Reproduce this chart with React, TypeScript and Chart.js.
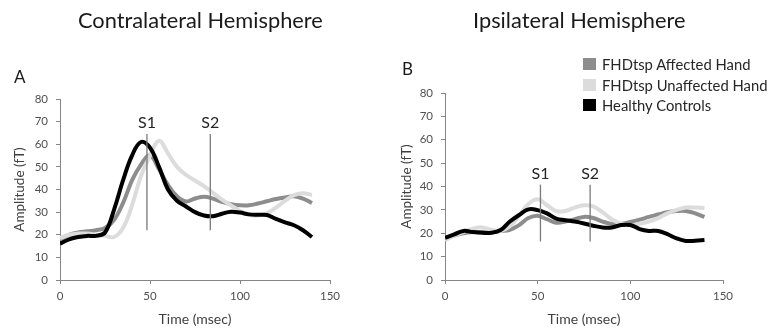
import React, { useEffect, useRef } from "react";
import { Chart, registerables } from "chart.js";
Chart.register(...registerables);

const FONT = "Lato, 'Open Sans', 'DejaVu Sans', sans-serif";

// ---- data ----
const timesMs = [0, 5, 10, 15, 20, 25, 30, 35, 40, 45, 50, 55, 60, 65, 70, 75, 80, 85, 90, 95, 100, 105, 110, 115, 120, 125, 130, 135, 140];

const seriesNames = ["FHDtsp Affected Hand", "FHDtsp Unaffected Hand", "Healthy Controls"];
const seriesColors = ["#8d8d8d", "#dcdcdc", "#000000"];

const contraAffected = [18, 20, 21, 21.5, 22, 23, 26.5, 34, 44, 51, 55, 49, 42, 37, 34.7, 36, 36.8, 36, 34.5, 33.5, 33, 33, 33.8, 34.8, 35.8, 36.5, 37, 36, 34];
const contraUnaffected = [18.5, 20, 20.5, 20.5, 20, 19.5, 19, 23, 33, 46, 55, 61.5, 56, 50, 46.5, 44, 41.5, 38.5, 35.5, 33, 30.5, 28.8, 28.5, 29.5, 32, 35, 37.5, 38.3, 37.6];
const contraControls = [16, 18, 19, 19.5, 19.5, 21, 31, 44, 55, 61, 58.5, 50, 40, 35, 32.5, 30, 28.5, 28.2, 29.3, 30.2, 29.8, 29, 28.8, 28.7, 27, 25.5, 24.2, 22, 19];

const ipsiAffected = [18, 19, 20, 20.5, 20.5, 20.5, 21, 21.5, 23.5, 26.5, 27.5, 26, 24.5, 25, 26, 27, 26.5, 25, 24, 24, 24.8, 25.8, 27, 28, 29, 29.5, 29.5, 28.5, 27];
const ipsiUnaffected = [17, 19, 20.5, 22, 22.5, 21.5, 21, 23, 27.5, 32.5, 34.5, 32, 29.5, 29.5, 31, 32, 31.5, 29, 26, 24, 23.5, 24, 25, 26.5, 28.5, 30, 31, 31, 30.8];
const ipsiControls = [18, 19.5, 21, 20.5, 20.2, 20.2, 21.4, 25, 27.8, 30.2, 29.9, 28.5, 26.3, 25.6, 25, 24.2, 23.2, 22.5, 22.5, 23.5, 23.5, 21.8, 21, 21, 19.6, 17.8, 16.7, 16.8, 17.1];

const markerLabels = ["S1", "S2"];
const contraMarkerTimes = [48.3, 83.5];
const contraMarkerSpan = [22, 64.5];
const ipsiMarkerTimes = [51.5, 78.3];
const ipsiMarkerSpan = [16.5, 40.8];

const xMin = 0, xMax = 150, xStep = 50;
const yMin = 0, yMax = 80, yStep = 10;

const panelTitles = ["Contralateral Hemisphere", "Ipsilateral Hemisphere"];
const panelLetters = ["A", "B"];
const xTitle = "Time (msec)";
const yTitle = "Amplitude (fT)";

type PanelProps = {
  series: number[][];
  markerTimes: number[];
  markerSpan: number[];
  left: number;
  padTop: number;
  padRight: number;
  yTitlePad: number;
};

function Panel({ series, markerTimes, markerSpan, left, padTop, padRight, yTitlePad }: PanelProps) {
  const ref = useRef<HTMLCanvasElement | null>(null);
  useEffect(() => {
    if (!ref.current) return;
    const lineSets = series.map((vals, i) => ({
      label: seriesNames[i],
      data: timesMs.map((t, j) => ({ x: t, y: vals[j] })),
      borderColor: seriesColors[i],
      backgroundColor: seriesColors[i],
      borderWidth: 4,
      pointRadius: 0,
      tension: 0.4,
      fill: false,
      order: 3 - i,
    }));
    const markerSets = markerTimes.map((t, i) => ({
      label: markerLabels[i],
      data: [
        { x: t, y: markerSpan[0] },
        { x: t, y: markerSpan[1] },
      ],
      borderColor: "#7a7a7a",
      borderWidth: 1.3,
      pointRadius: 0,
      tension: 0,
      fill: false,
      order: 0,
    }));
    const markerText = {
      id: "markerText",
      afterDatasetsDraw(chart: any) {
        const ctx = chart.ctx;
        const xs = chart.scales.x;
        const ys = chart.scales.y;
        ctx.save();
        ctx.fillStyle = "#262626";
        ctx.font = `16px ${FONT}`;
        ctx.textAlign = "center";
        ctx.textBaseline = "middle";
        markerTimes.forEach((t, i) => {
          ctx.fillText(markerLabels[i], xs.getPixelForValue(t), ys.getPixelForValue(markerSpan[1]) - 11);
        });
        ctx.restore();
      },
    };
    const chart = new Chart(ref.current, {
      type: "line",
      data: { datasets: [...lineSets, ...markerSets] as any },
      options: {
        animation: false,
        responsive: false,
        maintainAspectRatio: false,
        layout: { padding: { left: 0, top: padTop, right: padRight, bottom: 3 } },
        plugins: { legend: { display: false }, tooltip: { enabled: false }, title: { display: false } },
        scales: {
          x: {
            type: "linear",
            min: xMin,
            max: xMax,
            ticks: { stepSize: xStep, color: "#505050", font: { family: FONT, size: 11.5 }, padding: 5, maxRotation: 0 },
            grid: { display: true, drawOnChartArea: false, drawTicks: true, tickLength: 4, color: "#868686" },
            border: { display: true, color: "#868686" },
            title: { display: true, text: xTitle, color: "#404040", font: { family: FONT, size: 14 }, padding: { top: 0, bottom: 0 } },
            afterFit: (s: any) => { s.height = 48; },
          },
          y: {
            type: "linear",
            min: yMin,
            max: yMax,
            ticks: { stepSize: yStep, color: "#505050", font: { family: FONT, size: 11.5 }, padding: 8 },
            grid: { display: true, drawOnChartArea: false, drawTicks: true, tickLength: 4, color: "#868686" },
            border: { display: true, color: "#868686" },
            title: { display: true, text: yTitle, color: "#404040", font: { family: FONT, size: 13.5 }, padding: { top: yTitlePad, bottom: 0 } },
            afterFit: (s: any) => { s.width = 60; },
          },
        },
      },
      plugins: [markerText],
    });
    return () => chart.destroy();
  }, []);
  return (
    <canvas
      ref={ref}
      width={385}
      height={331}
      style={{ position: "absolute", left, top: 0, width: 385, height: 331 }}
    />
  );
}

const textStyle: React.CSSProperties = { position: "absolute", fontFamily: FONT, whiteSpace: "nowrap", lineHeight: 1 };

export default function App() {
  return (
    <div style={{ position: "fixed", left: 0, top: 0, width: 770, height: 331, background: "#fff", overflow: "hidden" }}>
      <Panel series={[contraAffected, contraUnaffected, contraControls]} markerTimes={contraMarkerTimes} markerSpan={contraMarkerSpan} left={0} padTop={99} padRight={55} yTitlePad={12} />
      <Panel series={[ipsiAffected, ipsiUnaffected, ipsiControls]} markerTimes={ipsiMarkerTimes} markerSpan={ipsiMarkerSpan} left={385} padTop={93} padRight={47} yTitlePad={14} />
      <div style={{ ...textStyle, left: 78, top: 9, fontSize: 21.8, color: "#1a1a1a" }}>{panelTitles[0]}</div>
      <div style={{ ...textStyle, left: 473, top: 9, fontSize: 21.8, color: "#1a1a1a" }}>{panelTitles[1]}</div>
      <div style={{ ...textStyle, left: 14, top: 68, fontSize: 17, color: "#1a1a1a" }}>{panelLetters[0]}</div>
      <div style={{ ...textStyle, left: 402, top: 60, fontSize: 17, color: "#1a1a1a" }}>{panelLetters[1]}</div>
      {seriesNames.map((name, i) => (
        <div key={name} style={{ position: "absolute", left: 583, top: 57 + i * 20.5, height: 14, display: "flex", alignItems: "center" }}>
          <div style={{ width: 13, height: 12, background: seriesColors[i], marginRight: 6 }} />
          <span style={{ fontFamily: FONT, fontSize: 14.8, color: "#262626", whiteSpace: "nowrap" }}>{name}</span>
        </div>
      ))}
    </div>
  );
}
